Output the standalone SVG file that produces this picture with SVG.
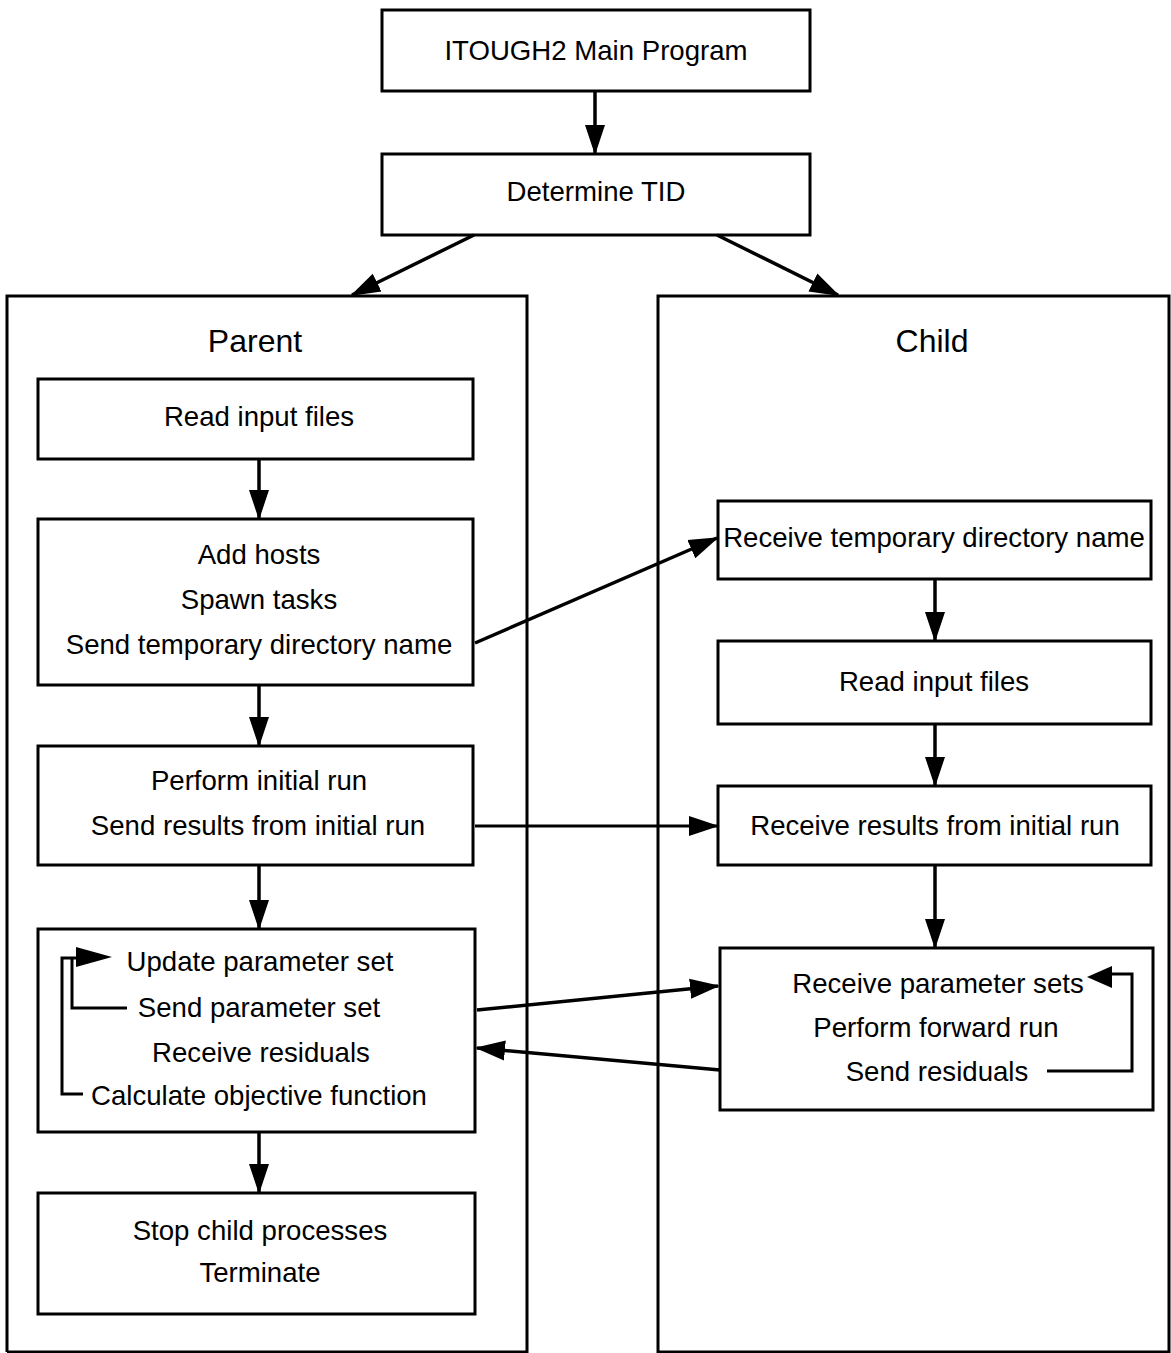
<svg xmlns="http://www.w3.org/2000/svg" width="1171" height="1353" viewBox="0 0 1171 1353">
<style>
.box{fill:#fff;stroke:#000;stroke-width:3}
.cont{fill:none;stroke:#000;stroke-width:3}
.t{font-family:"Liberation Sans",Arial,sans-serif;font-size:27.6px;fill:#000;text-anchor:middle}
.title{font-family:"Liberation Sans",Arial,sans-serif;font-size:32px;fill:#000;text-anchor:middle}
.c{fill:none;stroke:#000;stroke-width:3.5}
.l{fill:none;stroke:#000;stroke-width:3}
</style>
<defs>
<marker id="ah" markerUnits="userSpaceOnUse" markerWidth="30" markerHeight="22" refX="28" refY="10" orient="auto" viewBox="0 0 30 20">
<path d="M0,0 L30,10 L0,20 z" fill="#000"/>
</marker>
</defs>
<rect width="1171" height="1353" fill="#fff"/>
<g id="parent-container">
<path class="cont" d="M7,1352 V296 H527 V1353"/>
<path class="cont" d="M7,1352 H527"/>
<text class="title" x="255" y="352">Parent</text>
</g>
<g id="child-container">
<path class="cont" d="M658,1353 V296 H1169 V1352 H658"/>
<text class="title" x="932" y="352">Child</text>
</g>
<g id="main">
<rect class="box" x="382" y="10" width="428" height="81"/>
<text class="t" x="596" y="60">ITOUGH2 Main Program</text>
</g>
<g id="tid">
<rect class="box" x="382" y="154" width="428" height="81"/>
<text class="t" x="596" y="201">Determine TID</text>
</g>
<g id="p-read">
<rect class="box" x="38" y="379" width="435" height="80"/>
<text class="t" x="259" y="426">Read input files</text>
</g>
<g id="p-hosts">
<rect class="box" x="38" y="519" width="435" height="166"/>
<text class="t" x="259" y="564">Add hosts</text>
<text class="t" x="259" y="609">Spawn tasks</text>
<text class="t" x="259" y="654">Send temporary directory name</text>
</g>
<g id="p-init">
<rect class="box" x="38" y="746" width="435" height="119"/>
<text class="t" x="259" y="790">Perform initial run</text>
<text class="t" x="258" y="835">Send results from initial run</text>
</g>
<g id="p-update">
<rect class="box" x="38" y="929" width="437" height="203"/>
<text class="t" x="260" y="971">Update parameter set</text>
<text class="t" x="259" y="1017">Send parameter set</text>
<text class="t" x="261" y="1062">Receive residuals</text>
<text class="t" x="259" y="1105">Calculate objective function</text>
<path class="l" d="M83,1094 H62 V958 H80"/>
<path class="l" d="M127,1008 H72 V958"/>
<polygon points="76,947 112,957 76,967" fill="#000"/>
</g>
<g id="p-stop">
<rect class="box" x="38" y="1193" width="437" height="121"/>
<text class="t" x="260" y="1240">Stop child processes</text>
<text class="t" x="260" y="1282">Terminate</text>
</g>
<g id="c-recv-dir">
<rect class="box" x="718" y="501" width="433" height="78"/>
<text class="t" x="934" y="547">Receive temporary directory name</text>
</g>
<g id="c-read">
<rect class="box" x="718" y="641" width="433" height="83"/>
<text class="t" x="934" y="691">Read input files</text>
</g>
<g id="c-recv-res">
<rect class="box" x="718" y="786" width="433" height="79"/>
<text class="t" x="935" y="835">Receive results from initial run</text>
</g>
<g id="c-param">
<rect class="box" x="720" y="948" width="433" height="162"/>
<text class="t" x="938" y="993">Receive parameter sets</text>
<text class="t" x="936" y="1037">Perform forward run</text>
<text class="t" x="937" y="1081">Send residuals</text>
<path class="l" d="M1047,1071 H1132 V974 H1108"/>
<polygon points="1112,966 1087,977 1112,988" fill="#000"/>
</g>
<g id="connectors">
<line class="c" x1="595" y1="91" x2="595" y2="153" marker-end="url(#ah)"/>
<line class="c" x1="474" y1="235" x2="352" y2="295" marker-end="url(#ah)"/>
<line class="c" x1="717" y1="235" x2="838" y2="295" marker-end="url(#ah)"/>
<line class="c" x1="259" y1="459" x2="259" y2="518" marker-end="url(#ah)"/>
<line class="c" x1="259" y1="685" x2="259" y2="745" marker-end="url(#ah)"/>
<line class="c" x1="259" y1="865" x2="259" y2="928" marker-end="url(#ah)"/>
<line class="c" x1="259" y1="1132" x2="259" y2="1192" marker-end="url(#ah)"/>
<line class="c" x1="935" y1="579" x2="935" y2="640" marker-end="url(#ah)"/>
<line class="c" x1="935" y1="724" x2="935" y2="785" marker-end="url(#ah)"/>
<line class="c" x1="935" y1="865" x2="935" y2="947" marker-end="url(#ah)"/>
<line class="c" x1="475" y1="643" x2="717" y2="538" marker-end="url(#ah)"/>
<line class="l" x1="475" y1="826" x2="717" y2="826" marker-end="url(#ah)"/>
<line class="c" x1="477" y1="1010" x2="718" y2="986" marker-end="url(#ah)"/>
<line class="c" x1="720" y1="1070" x2="477" y2="1048" marker-end="url(#ah)"/>
</g>
</svg>
